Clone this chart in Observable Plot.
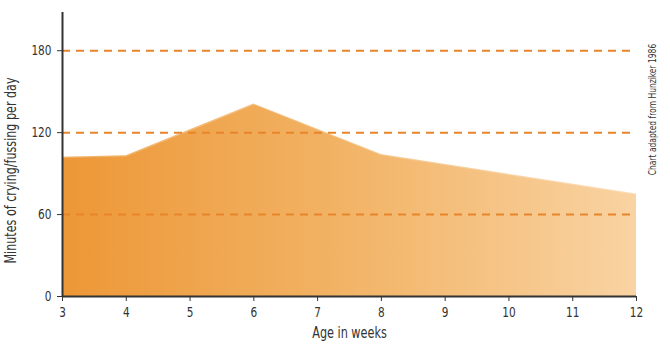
<!DOCTYPE html>
<html>
<head>
<meta charset="utf-8">
<script src="https://cdn.jsdelivr.net/npm/d3@7"></script>
<script src="https://cdn.jsdelivr.net/npm/@observablehq/plot@0.6"></script>
<style>
  html, body { margin: 0; padding: 0; background: #fff; }
  #chart { width: 670px; height: 351px; }
  svg text { font-family: "DejaVu Sans", sans-serif; }
</style>
</head>
<body>
<div id="chart"></div>
<script>
const weeks = [3, 4, 6, 8, 12];
const minutes = [102, 103, 141, 104, 75];
const xTicks = [3, 4, 5, 6, 7, 8, 9, 10, 11, 12];
const yTicks = [0, 60, 120, 180];
const refLines = [60, 120, 180];
const xLabel = "Age in weeks";
const yLabel = "Minutes of crying/fussing per day";
const caption = "Chart adapted from Hunziker 1986";

const data = weeks.map((w, i) => ({week: w, minutes: minutes[i]}));

const gradientDefs = (index, scales, values, dims) => {
  const g = d3.create("svg:defs");
  const lg = g.append("linearGradient")
    .attr("id", "areaGrad")
    .attr("gradientUnits", "userSpaceOnUse")
    .attr("x1", dims.marginLeft).attr("x2", dims.width - dims.marginRight)
    .attr("y1", 0).attr("y2", 0);
  lg.append("stop").attr("offset", "0%").attr("stop-color", "#ED9736");
  lg.append("stop").attr("offset", "50%").attr("stop-color", "#F2B467");
  lg.append("stop").attr("offset", "100%").attr("stop-color", "#F9D3A2");
  return g.node();
};

const chart = Plot.plot({
  width: 670,
  height: 351,
  marginLeft: 62,
  marginRight: 34,
  marginTop: 12,
  marginBottom: 55,
  style: {fontSize: "14px", color: "#333", background: "#fff"},
  x: {domain: [3, 12], ticks: xTicks, tickSize: 5, label: null, tickPadding: 6},
  y: {domain: [0, 208], ticks: yTicks, tickSize: 5, label: null, tickPadding: 6},
  marks: [
    gradientDefs,
    Plot.areaY(data, {x: "week", y: "minutes", fill: "url(#areaGrad)"}),
    Plot.lineY(data, {x: "week", y: "minutes", stroke: "#fff", strokeOpacity: 0.25, strokeWidth: 1.5}),
    Plot.ruleY(refLines, {stroke: "#E8852A", strokeWidth: 2, strokeDasharray: "8,6"}),
    Plot.ruleY([0], {stroke: "#333", strokeWidth: 2}),
    Plot.ruleX([3], {stroke: "#333", strokeWidth: 2}),
    Plot.text([xLabel], {frameAnchor: "bottom", text: d => d, dy: 41, fontSize: 15, fill: "#333"}),
    Plot.text([yLabel], {frameAnchor: "left", rotate: -90, text: d => d, textAnchor: "middle", dx: -51, dy: 16, fontSize: 15.5, fill: "#333"}),
    Plot.text([caption], {frameAnchor: "top-right", rotate: -90, text: d => d, textAnchor: "middle", dx: 12, dy: 97, fontSize: 10.5, fill: "#333"})
  ]
});
document.getElementById("chart").appendChild(chart);
// condense all text horizontally to mimic the narrow typeface
d3.select(chart).selectAll("text").each(function() {
  const t = this.getAttribute("transform") || "";
  if (t.includes("rotate")) {
    this.setAttribute("transform", t + " scale(0.72,1)");
  } else {
    const len = this.getComputedTextLength();
    if (len > 0) {
      this.setAttribute("textLength", (len * 0.75).toFixed(1));
      this.setAttribute("lengthAdjust", "spacingAndGlyphs");
    }
  }
});
</script>
</body>
</html>
